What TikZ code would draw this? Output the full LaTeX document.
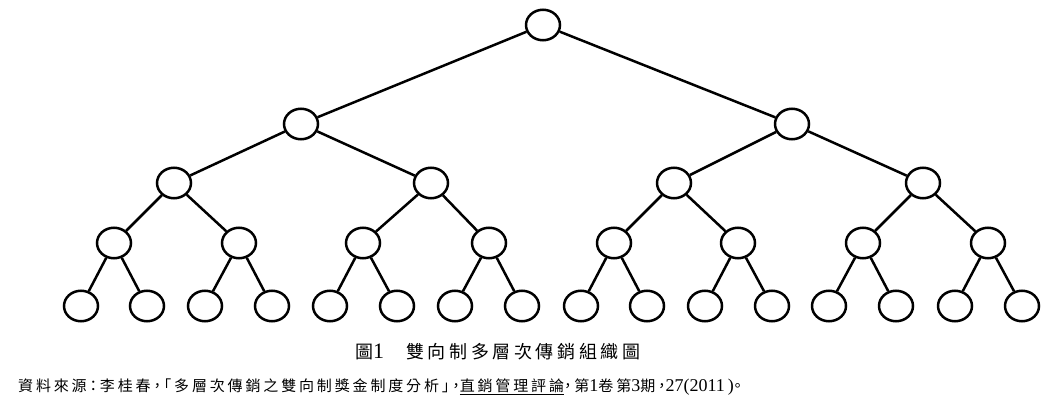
\documentclass[tikz,border=0pt]{standalone}
\usepackage{fontspec}
\setmainfont{Liberation Serif}
\newfontfamily\cjk[LetterSpace=20]{Noto Sans CJK TC}
\newfontfamily\cjksrc[LetterSpace=19,RawFeature=+halt]{Noto Sans CJK TC}
\usetikzlibrary{shapes.geometric}

\begin{document}
\begin{tikzpicture}[x=1pt,y=-1pt,
	member/.style={draw, ellipse, line width=2.5pt, minimum width=34pt, minimum height=30.5pt, inner sep=0pt},
	link/.style={line width=2.5pt}]
			\useasboundingbox (0,0) rectangle (1062,406);
			% level 0 and 1
			\node[member] at(543,25) (r) {};
			\node[member] at(301,124) (r1) {};
			\node[member] at(792,124) (r2) {};
			% level 2
			\node[member] at(174,183) (r11) {};
			\node[member] at(431,183) (r12) {};
			\node[member] at(674,183) (r21) {};
			\node[member] at(923,183) (r22) {};
			% level 3
			\node[member] at(114,243) (r111) {};
			\node[member] at(239,243) (r112) {};
			\node[member] at(363,243) (r121) {};
			\node[member] at(489,243) (r122) {};
			\node[member] at(614,243) (r211) {};
			\node[member] at(738,243) (r212) {};
			\node[member] at(863,243) (r221) {};
			\node[member] at(988,243) (r222) {};
			% level 4
			\node[member] at(81,306) (r1111) {};
			\node[member] at(147,306) (r1112) {};
			\node[member] at(205,306) (r1121) {};
			\node[member] at(272,306) (r1122) {};
			\node[member] at(330,306) (r1211) {};
			\node[member] at(397,306) (r1212) {};
			\node[member] at(455,306) (r1221) {};
			\node[member] at(522,306) (r1222) {};
			\node[member] at(581,306) (r2111) {};
			\node[member] at(647,306) (r2112) {};
			\node[member] at(705,306) (r2121) {};
			\node[member] at(772,306) (r2122) {};
			\node[member] at(829,306) (r2211) {};
			\node[member] at(896,306) (r2212) {};
			\node[member] at(955,306) (r2221) {};
			\node[member] at(1022,306) (r2222) {};
			
			\draw[link] (r) -- (r1) (r) -- (r2);
			\draw[link] (r1) -- (r11) (r1) -- (r12) (r2) -- (r21) (r2) -- (r22);
			\draw[link] (r11) -- (r111) (r11) -- (r112) (r12) -- (r121) (r12) -- (r122);
			\draw[link] (r21) -- (r211) (r21) -- (r212) (r22) -- (r221) (r22) -- (r222);
			\draw[link] (r111) -- (r1111) (r111) -- (r1112) (r112) -- (r1121) (r112) -- (r1122);
			\draw[link] (r121) -- (r1211) (r121) -- (r1212) (r122) -- (r1221) (r122) -- (r1222);
			\draw[link] (r211) -- (r2111) (r211) -- (r2112) (r212) -- (r2121) (r212) -- (r2122);
			\draw[link] (r221) -- (r2211) (r221) -- (r2212) (r222) -- (r2221) (r222) -- (r2222);
			
			\node[anchor=west, inner sep=0pt, font=\fontsize{22}{24}\selectfont] at(355,352) (caption) {{\fontsize{18}{20}\selectfont\cjk 圖}1\hspace{22pt}{\fontsize{18}{20}\selectfont\cjk 雙向制多層次傳銷組織圖}};
			\node[anchor=west, inner sep=0pt, font=\fontsize{18}{20}\selectfont] at(18,387) (source) {{\fontsize{15}{17}\selectfont\cjksrc 資料來源：李桂春，「多層次傳銷之雙向制獎金制度分析」，\underline{直銷管理評論}，第}1{\fontsize{15}{17}\selectfont\cjksrc 卷第}3{\fontsize{15}{17}\selectfont\cjksrc 期，}27(2011\,){\fontsize{15}{17}\selectfont\cjksrc 。}};
			\end{tikzpicture}
\end{document}
